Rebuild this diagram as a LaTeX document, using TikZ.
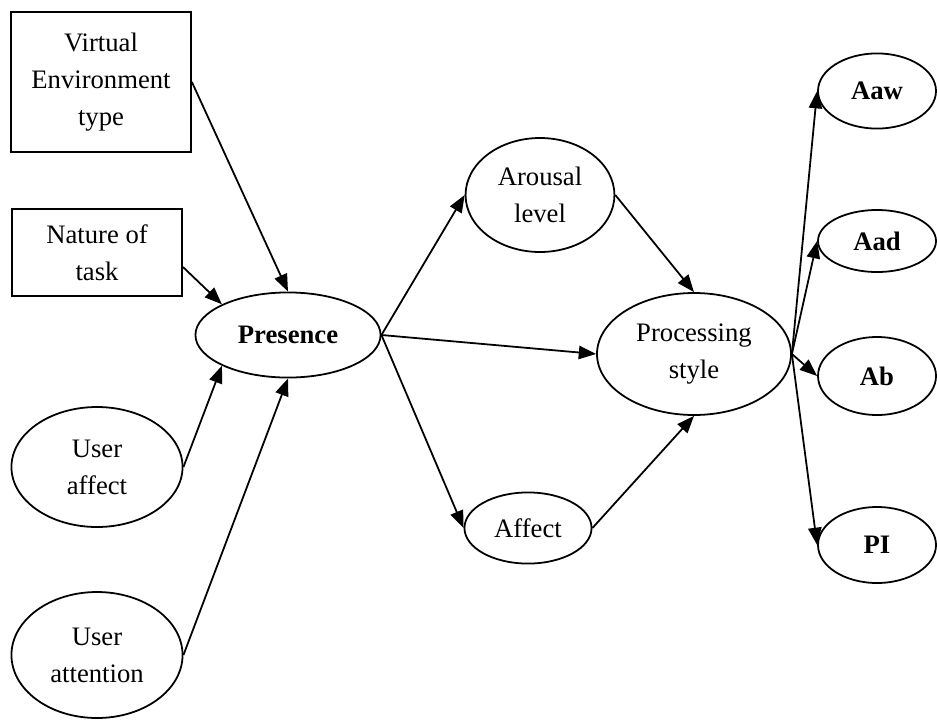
\documentclass[tikz,border=0pt]{standalone}
\usepackage{fontspec}
\setmainfont{Liberation Serif}
\usepackage{tikz}
\usetikzlibrary{positioning, arrows.meta, shapes.geometric}

\begin{document}
\begin{tikzpicture}[
    x=0.45pt, y=-0.45pt,
    % stili per i nodi
    box_node/.style = {
        rectangle,
        draw,
        line width=0.8pt,
        align=center,
        inner sep=0,
        font=\fontsize{12}{16.7}\selectfont
    },
    oval_node/.style = {
        ellipse,
        draw,
        line width=0.8pt,
        align=center,
        inner sep=0,
        font=\fontsize{12}{16.7}\selectfont
    },
    link/.style = {
        line width=0.8pt,
        -{Triangle[length=7.8pt,width=6pt]}
    }
]

\useasboundingbox (0,0) rectangle (937,719);

% 1. Fattori a sinistra
\node[box_node, minimum width=81pt, minimum height=63pt] (ve_type) at (101,82) {Virtual\\Environment\\type};
\node[box_node, minimum width=76.5pt, minimum height=39.2pt] (nature_task) at (97,252.5) {Nature of\\task};
\node[oval_node, minimum width=77pt, minimum height=54pt] (user_affect) at (97,467) {User\\affect};
\node[oval_node, minimum width=77pt, minimum height=56.7pt] (user_attention) at (97,655) {User\\attention};

% 2. Nodo centrale
\node[oval_node, minimum width=83.3pt, minimum height=38.3pt, font=\fontsize{12}{16.7}\selectfont\bfseries] (presence) at (288,335) {Presence};

% 3. Mediatori
\node[oval_node, minimum width=67pt, minimum height=51.3pt] (arousal) at (540,195) {Arousal\\level};
\node[oval_node, minimum width=57.2pt, minimum height=32pt] (affect) at (528,528) {Affect};
\node[oval_node, minimum width=87.3pt, minimum height=54.9pt] (processing) at (694,354) {Processing\\style};

% 4. Esiti a destra
\node[oval_node, minimum width=53.1pt, minimum height=33.8pt, font=\fontsize{12}{16.7}\selectfont\bfseries] (aaw) at (877,91) {Aaw};
\node[oval_node, minimum width=53.1pt, minimum height=27.9pt, font=\fontsize{12}{16.7}\selectfont\bfseries] (aad) at (877,241) {Aad};
\node[oval_node, minimum width=53.1pt, minimum height=35.1pt, font=\fontsize{12}{16.7}\selectfont\bfseries] (ab) at (877,376) {Ab};
\node[oval_node, minimum width=53.1pt, minimum height=34.2pt, font=\fontsize{12}{16.7}\selectfont\bfseries] (pi) at (877,545) {PI};

% 5. Frecce
\draw[link] (ve_type.east) -- (presence.north);
\draw[link] ([yshift=-6.5pt]nature_task.east) -- (presence.north west);
\draw[link] (user_affect.east) -- (presence.south west);
\draw[link] (user_attention.east) -- (presence.south);

\draw[link] (presence.east) -- (arousal.west);
\draw[link] (presence.east) -- (processing.west);
\draw[link] (presence.east) -- (affect.west);

\draw[link] (arousal.east) -- (processing.north);
\draw[link] (affect.east) -- (processing.south);

\draw[link] (processing.east) -- (aaw.west);
\draw[link] (processing.east) -- (aad.west);
\draw[link] (processing.east) -- (ab.west);
\draw[link] (processing.east) -- (pi.west);

\end{tikzpicture}
\end{document}
